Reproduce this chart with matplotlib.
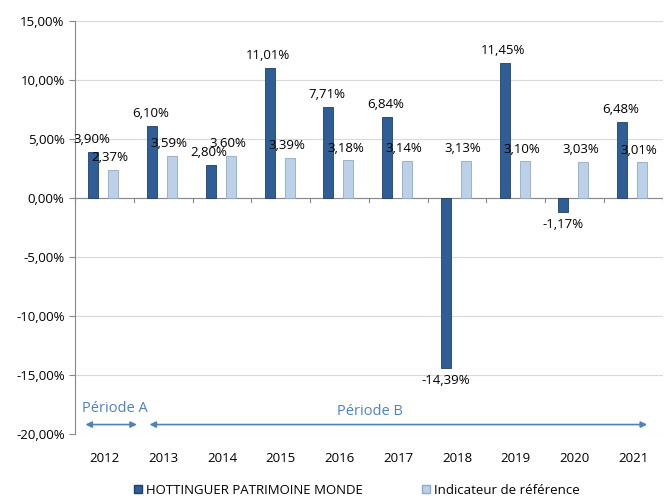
import matplotlib.pyplot as plt
import numpy as np
from matplotlib.patches import Patch

annees = ['2012', '2013', '2014', '2015', '2016', '2017', '2018', '2019', '2020', '2021']
fonds = [3.90, 6.10, 2.80, 11.01, 7.71, 6.84, -14.39, 11.45, -1.17, 6.48]
indicateur = [2.37, 3.59, 3.60, 3.39, 3.18, 3.14, 3.13, 3.10, 3.03, 3.01]

c_fonds = '#2f5d95'
c_ind = '#bcd0e8'
c_fleche = '#4f81bd'

plt.rcParams['font.family'] = ['Open Sans', 'DejaVu Sans']

fig = plt.figure(figsize=(6.71, 5.0), dpi=100)
ax = fig.add_axes([0.1118, 0.132, 0.876, 0.826])

x = np.arange(len(annees))
w = 0.17
ax.bar(x - 0.19, fonds, w, color=c_fonds, edgecolor='#1f4068', linewidth=0.6, zorder=3)
ax.bar(x + 0.15, indicateur, w, color=c_ind, edgecolor='#8eaacb', linewidth=0.6, zorder=3)

def fmt(v):
    return f"{v:.2f}%".replace('.', ',')

for i, v in enumerate(fonds):
    if v >= 0:
        ax.text(x[i] - 0.22, v + 0.5, fmt(v), ha='center', va='bottom', fontsize=9.5, zorder=4)
    else:
        ax.text(x[i] - 0.19, v - 0.5, fmt(v), ha='center', va='top', fontsize=9.5, zorder=4)
for i, v in enumerate(indicateur):
    ax.text(x[i] + 0.1, v + 0.5, fmt(v), ha='center', va='bottom', fontsize=9.5, zorder=4)

ax.set_xlim(-0.5, 9.5)
ax.set_ylim(-20, 15)
yt = np.arange(-20, 16, 5)
ax.set_yticks(yt)
ax.set_yticklabels([f"{t:.2f}%".replace('.', ',') for t in yt], fontsize=9.5)
ax.grid(axis='y', color='#d9d9d9', linewidth=0.8, zorder=0)
ax.set_axisbelow(True)

ax.set_xticks(x)
ax.set_xticklabels(annees, fontsize=9.5)
ax.tick_params(axis='x', length=0, pad=13)
ax.tick_params(axis='y', length=4, color='#888888', direction='out')

for s in ['top', 'right', 'bottom']:
    ax.spines[s].set_visible(False)
ax.spines['left'].set_color('#888888')

# ligne du zéro avec graduations
ax.axhline(0, color='#888888', linewidth=0.8, zorder=2)
for b in np.arange(-0.5, 9.6, 1):
    ax.plot([b, b], [0, -0.35], color='#888888', linewidth=0.8, zorder=2)

# périodes
ax.annotate('', xy=(-0.37, -19.2), xytext=(0.6, -19.2),
            arrowprops=dict(arrowstyle='<|-|>', color=c_fleche, lw=1.2, mutation_scale=9))
ax.text(-0.38, -17.8, 'Période A', color=c_fleche, fontsize=10.5, ha='left', va='center')
ax.annotate('', xy=(0.72, -19.2), xytext=(9.28, -19.2),
            arrowprops=dict(arrowstyle='<|-|>', color=c_fleche, lw=1.2, mutation_scale=9))
ax.text(4.52, -18.1, 'Période B', color=c_fleche, fontsize=10.5, ha='center', va='center')

handles = [Patch(facecolor=c_fonds, edgecolor='#1f4068'), Patch(facecolor=c_ind, edgecolor='#8eaacb')]
fig.legend(handles, ['HOTTINGUER PATRIMOINE MONDE', 'Indicateur de référence'],
           loc='center', bbox_to_anchor=(0.532, 0.02), ncol=2, frameon=False, fontsize=9.5,
           handlelength=0.6, handleheight=0.6, columnspacing=4.5, handletextpad=0.3)

fig.savefig('out.png', dpi=100)
